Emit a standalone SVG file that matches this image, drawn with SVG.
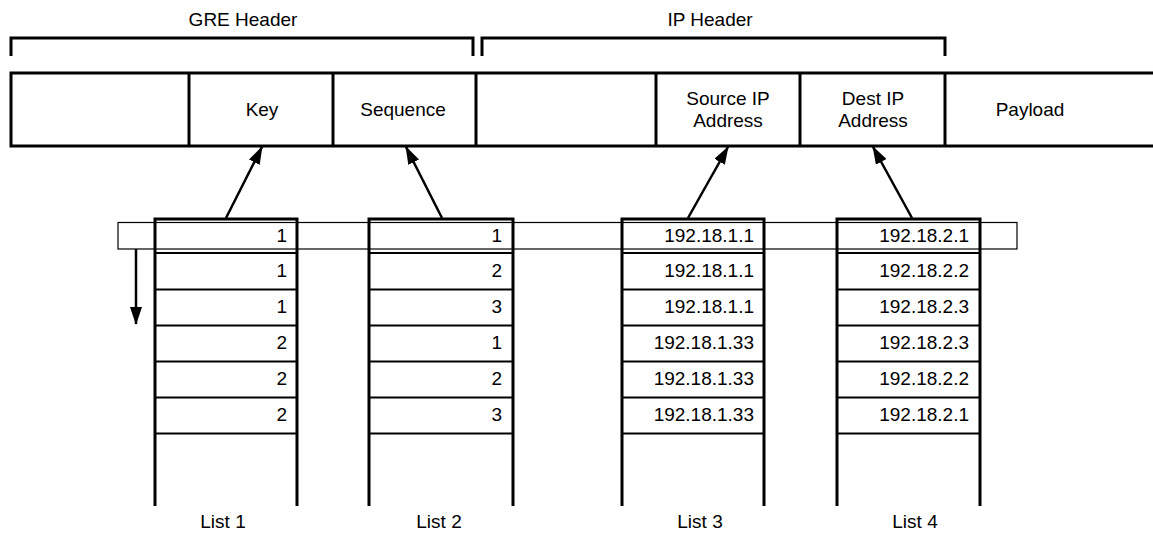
<svg xmlns="http://www.w3.org/2000/svg" width="1153" height="533" viewBox="0 0 1153 533">
<style>
text{font-family:"Liberation Sans",Arial,sans-serif;font-size:19px;fill:#000}
.c{text-anchor:middle}
.e{text-anchor:end}
.thick{stroke:#000;stroke-width:3;fill:none}
.row{stroke:#000;stroke-width:2;fill:none}
.thin{stroke:#000;stroke-width:1.2;fill:none}
.arr{stroke:#000;stroke-width:2.5;fill:none;marker-end:url(#ah)}
</style>
<defs>
<marker id="ah" viewBox="0 0 18 12" refX="17" refY="6" markerWidth="18" markerHeight="12" markerUnits="userSpaceOnUse" orient="auto">
<path d="M0,0 L18,6 L0,12 z" fill="#000"/>
</marker>
</defs>
<rect width="1153" height="533" fill="#fff"/>
<g id="gre-header">
<path class="thick" d="M11,56 V38 H473 V56"/>
<text class="c" x="243" y="26">GRE Header</text>
</g>
<g id="ip-header">
<path class="thick" d="M482,56 V38 H945 V56"/>
<text class="c" x="710" y="26">IP Header</text>
</g>
<g id="packet">
<path class="thick" d="M1153,73 H11 V146 H1153"/>
<line class="thick" x1="189" y1="73" x2="189" y2="146"/>
<line class="thick" x1="333" y1="73" x2="333" y2="146"/>
<line class="thick" x1="476" y1="73" x2="476" y2="146"/>
<line class="thick" x1="656" y1="73" x2="656" y2="146"/>
<line class="thick" x1="800" y1="73" x2="800" y2="146"/>
<line class="thick" x1="945" y1="73" x2="945" y2="146"/>
<text class="c" x="262" y="116">Key</text>
<text class="c" x="403" y="116">Sequence</text>
<text class="c" x="728" y="105">Source IP</text>
<text class="c" x="728" y="127">Address</text>
<text class="c" x="873" y="105">Dest IP</text>
<text class="c" x="873" y="127">Address</text>
<text class="c" x="1030" y="116">Payload</text>
</g>
<g id="list1">
<path class="thick" d="M155,506 V219 H297 V506"/>
<path class="row" d="M155,253 H297 M155,289.5 H297 M155,325.5 H297 M155,361.5 H297 M155,397.5 H297 M155,433.5 H297"/>
<text class="e" x="287" y="242">1</text>
<text class="e" x="287" y="277">1</text>
<text class="e" x="287" y="313">1</text>
<text class="e" x="287" y="349">2</text>
<text class="e" x="287" y="385">2</text>
<text class="e" x="287" y="421">2</text>
<text class="c" x="223" y="528">List 1</text>
</g>
<g id="list2">
<path class="thick" d="M369,506 V219 H513 V506"/>
<path class="row" d="M369,253 H513 M369,289.5 H513 M369,325.5 H513 M369,361.5 H513 M369,397.5 H513 M369,433.5 H513"/>
<text class="e" x="502" y="242">1</text>
<text class="e" x="502" y="277">2</text>
<text class="e" x="502" y="313">3</text>
<text class="e" x="502" y="349">1</text>
<text class="e" x="502" y="385">2</text>
<text class="e" x="502" y="421">3</text>
<text class="c" x="439" y="528">List 2</text>
</g>
<g id="list3">
<path class="thick" d="M622,506 V219 H764 V506"/>
<path class="row" d="M622,253 H764 M622,289.5 H764 M622,325.5 H764 M622,361.5 H764 M622,397.5 H764 M622,433.5 H764"/>
<text class="e" x="754" y="242">192.18.1.1</text>
<text class="e" x="754" y="277">192.18.1.1</text>
<text class="e" x="754" y="313">192.18.1.1</text>
<text class="e" x="754" y="349">192.18.1.33</text>
<text class="e" x="754" y="385">192.18.1.33</text>
<text class="e" x="754" y="421">192.18.1.33</text>
<text class="c" x="700" y="528">List 3</text>
</g>
<g id="list4">
<path class="thick" d="M837,506 V219 H980 V506"/>
<path class="row" d="M837,253 H980 M837,289.5 H980 M837,325.5 H980 M837,361.5 H980 M837,397.5 H980 M837,433.5 H980"/>
<text class="e" x="969" y="242">192.18.2.1</text>
<text class="e" x="969" y="277">192.18.2.2</text>
<text class="e" x="969" y="313">192.18.2.3</text>
<text class="e" x="969" y="349">192.18.2.3</text>
<text class="e" x="969" y="385">192.18.2.2</text>
<text class="e" x="969" y="421">192.18.2.1</text>
<text class="c" x="915" y="528">List 4</text>
</g>
<g id="current-row">
<rect class="thin" x="118" y="222.5" width="899" height="26.5"/>
</g>
<g id="connectors">
<line class="arr" x1="226" y1="218" x2="262" y2="147"/>
<line class="arr" x1="442" y1="218" x2="406" y2="147"/>
<line class="arr" x1="688" y1="218" x2="728" y2="147"/>
<line class="arr" x1="912" y1="218" x2="873" y2="147"/>
<line class="arr" x1="136" y1="249" x2="136" y2="324"/>
</g>
</svg>
